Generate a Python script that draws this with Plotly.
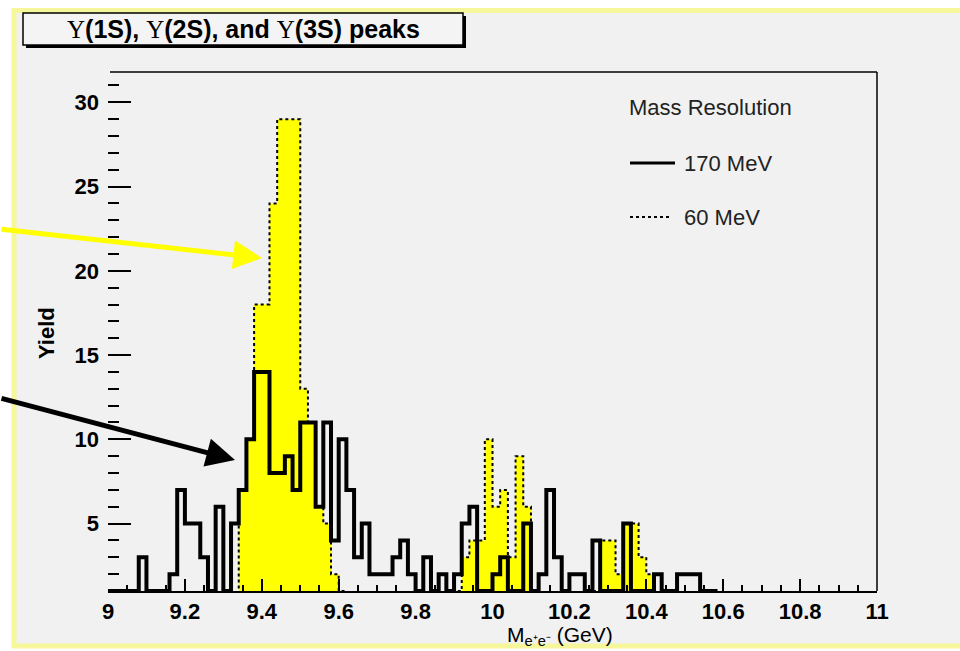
import plotly.graph_objects as go

# ---- data -------------------------------------------------------------
bin_lo = 9.00
bin_width = 0.02
# 170 MeV resolution (black outline)
yield_170 = [1, 1, 1, 1, 3, 1, 1, 1, 2, 7,
             5, 5, 3, 1, 6, 1, 5, 7, 10, 14,
             14, 8, 8, 9, 7, 11, 11, 6, 11, 4,
             10, 7, 3, 5, 2, 2, 2, 3, 4, 2,
             1, 3, 1, 2, 1, 2, 5, 6, 1, 1,
             2, 3, 1, 1, 5, 1, 2, 7, 3, 1,
             2, 2, 1, 4, 1, 1, 1, 5, 1, 1,
             1, 2, 1, 1, 2, 2, 2, 1, 1, 0,
             0, 0, 0, 0, 0, 0, 0, 0, 0, 0,
             0, 0, 0, 0, 0, 0, 0, 0, 0, 0]
# 60 MeV resolution (yellow filled)
yield_60 = [0, 0, 0, 0, 0, 0, 0, 0, 0, 0,
            0, 0, 0, 0, 0, 0, 0, 7, 10, 18,
            18, 24, 29, 29, 29, 13, 11, 6, 5, 2,
            1, 0, 0, 0, 0, 0, 0, 0, 0, 0,
            0, 0, 0, 0, 0, 1, 3, 4, 4, 10,
            6, 7, 3, 9, 6, 1, 0, 0, 0, 0,
            0, 0, 0, 1, 4, 4, 2, 5, 5, 3,
            2, 0, 0, 0, 0, 0, 0, 0, 0, 0,
            0, 0, 0, 0, 0, 0, 0, 0, 0, 0,
            0, 0, 0, 0, 0, 0, 0, 0, 0, 0]
x_tick_vals = [9.0, 9.2, 9.4, 9.6, 9.8, 10.0, 10.2, 10.4, 10.6, 10.8, 11.0]
x_tick_text = ["9", "9.2", "9.4", "9.6", "9.8", "10", "10.2", "10.4", "10.6", "10.8", "11"]
y_tick_vals = [5, 10, 15, 20, 25, 30]
legend_title = "Mass Resolution"
legend_labels = ["170 MeV", "60 MeV"]

# ---- layout geometry ---------------------------------------------------
W, H = 960, 651
L, R, T, B = 108, 877, 72, 591


def px(x):
    return (x - L) / (R - L)


def py(y):
    return (B - y) / (B - T)


n = len(yield_170)
edges = [round(bin_lo + i * bin_width, 4) for i in range(n + 1)]

fig = go.Figure()
fig.add_trace(go.Scatter(
    x=edges, y=yield_60 + [yield_60[-1]], mode="lines",
    line=dict(shape="hv", color="black", width=2, dash="dot"),
    fill="tozeroy", fillcolor="#ffff00", showlegend=False, hoverinfo="skip"))
fig.add_trace(go.Scatter(
    x=edges, y=yield_170 + [yield_170[-1]], mode="lines",
    line=dict(shape="hv", color="black", width=4),
    showlegend=False, hoverinfo="skip"))

font_main = "Liberation Sans, Arial, sans-serif"
font_tick = "Liberation Sans Narrow, Liberation Sans, Arial, sans-serif"
border_col = "#f6f69a"

shapes = [
    # outer canvas
    dict(type="rect", xref="paper", yref="paper", layer="below",
         x0=px(14), x1=px(960), y0=py(10.5), y1=py(646),
         fillcolor="#f1f1f1", line=dict(width=0)),
    # pale yellow border (left, top, bottom)
    dict(type="line", xref="paper", yref="paper", layer="below",
         x0=px(14), x1=px(14), y0=py(8), y1=py(648),
         line=dict(color=border_col, width=5)),
    dict(type="line", xref="paper", yref="paper", layer="below",
         x0=px(12), x1=px(960), y0=py(10.5), y1=py(10.5),
         line=dict(color=border_col, width=5)),
    dict(type="line", xref="paper", yref="paper", layer="below",
         x0=px(12), x1=px(960), y0=py(646), y1=py(646),
         line=dict(color=border_col, width=5)),
    # frame top and right
    dict(type="line", xref="paper", yref="paper",
         x0=px(110), x1=px(R), y0=1, y1=1, line=dict(color="black", width=1.5)),
    dict(type="line", xref="paper", yref="paper",
         x0=1, x1=1, y0=0, y1=1, line=dict(color="black", width=1.5)),
    # title box shadow + box
    dict(type="rect", xref="paper", yref="paper",
         x0=px(26), x1=px(466), y0=py(48), y1=py(16),
         fillcolor="black", line=dict(width=0)),
    dict(type="rect", xref="paper", yref="paper",
         x0=px(23), x1=px(463), y0=py(45), y1=py(13),
         fillcolor="#f4f4f4", line=dict(color="black", width=1.5)),
    # legend samples
    dict(type="line", xref="paper", yref="paper",
         x0=px(630), x1=px(675), y0=py(163), y1=py(163),
         line=dict(color="black", width=3)),
    dict(type="line", xref="paper", yref="paper",
         x0=px(630), x1=px(672), y0=py(217), y1=py(217),
         line=dict(color="black", width=2, dash="dot")),
]

serif_u = "<span style=\"font-family:'Liberation Serif',serif;font-weight:normal\">Υ</span>"
title_text = (serif_u + "<b>(1S), </b>" + serif_u + "<b>(2S), and </b>" + serif_u + "<b>(3S) peaks</b>")

annotations = [
    dict(text=title_text, xref="paper", yref="paper", x=px(243), y=py(29),
         xanchor="center", yanchor="middle", showarrow=False,
         font=dict(family=font_main, size=25, color="black")),
    dict(text=legend_title, xref="paper", yref="paper", x=px(627), y=py(108),
         xanchor="left", yanchor="middle", showarrow=False,
         font=dict(family=font_main, size=22, color="#222")),
    dict(text=legend_labels[0], xref="paper", yref="paper", x=px(682), y=py(163),
         xanchor="left", yanchor="middle", showarrow=False,
         font=dict(family=font_main, size=22, color="#222")),
    dict(text=legend_labels[1], xref="paper", yref="paper", x=px(682), y=py(217),
         xanchor="left", yanchor="middle", showarrow=False,
         font=dict(family=font_main, size=22, color="#222")),
    dict(text="<b>Yield</b>", xref="paper", yref="paper", x=px(46), y=py(333),
         xanchor="center", yanchor="middle", showarrow=False, textangle=-90,
         font=dict(family=font_main, size=22, color="black")),
    dict(text="M<sub>e⁺e⁻</sub> (GeV)", xref="paper", yref="paper", x=px(560), y=py(636),
         xanchor="center", yanchor="middle", showarrow=False,
         font=dict(family=font_main, size=21, color="black")),
    # arrows
    dict(text="", xref="paper", yref="paper", x=px(262), y=py(258),
         ax=-262, ay=-29, showarrow=True, arrowhead=2, arrowsize=1.15,
         arrowwidth=5, arrowcolor="#ffff00", standoff=0),
    dict(text="", xref="paper", yref="paper", x=px(235), y=py(460),
         ax=-235, ay=-62, showarrow=True, arrowhead=2, arrowsize=1.15,
         arrowwidth=5, arrowcolor="black", standoff=0),
]

fig.update_layout(
    width=W, height=H, autosize=False,
    margin=dict(l=L, r=W - R, t=T, b=H - B, pad=0),
    paper_bgcolor="white", plot_bgcolor="#f1f1f1",
    shapes=shapes, annotations=annotations,
    showlegend=False,
    xaxis=dict(range=[9, 11], tickvals=x_tick_vals, ticktext=x_tick_text,
               ticks="inside", ticklen=12, tickwidth=1.5, tickcolor="black",
               minor=dict(dtick=0.05, tick0=9, ticks="inside", ticklen=6,
                          tickwidth=1.5, tickcolor="black"),
               showline=True, linecolor="black", linewidth=2,
               showgrid=False, zeroline=False, ticklabelstandoff=0,
               tickfont=dict(family=font_tick, size=22, color="black", weight="bold")),
    yaxis=dict(range=[1.0, 31.8], tickvals=y_tick_vals,
               ticks="inside", ticklen=23, tickwidth=2, tickcolor="black",
               minor=dict(dtick=1, tick0=0, ticks="inside", ticklen=11,
                          tickwidth=2, tickcolor="black"),
               showline=False, showgrid=False, zeroline=False,
               ticklabelstandoff=8,
               tickfont=dict(family=font_tick, size=22, color="black", weight="bold")),
)

fig.write_html("out.html")
